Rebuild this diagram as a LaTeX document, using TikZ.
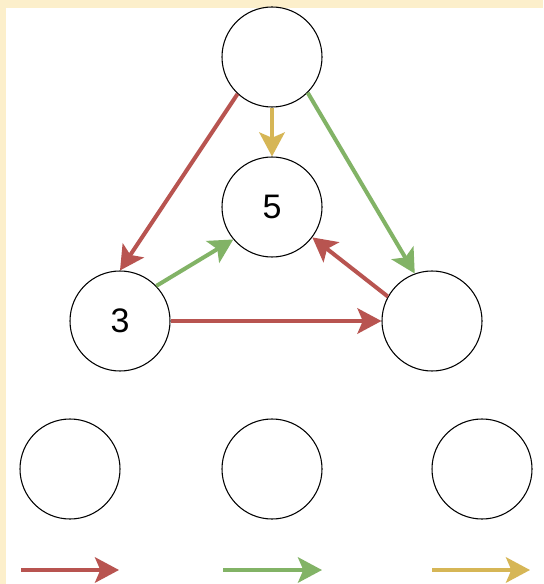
\documentclass[tikz,border=0pt]{standalone}
\usepackage{fontspec}
\setmainfont{Liberation Sans}
\usetikzlibrary{arrows.meta}
\definecolor{cream}{HTML}{FCEFCB}
\definecolor{cred}{HTML}{B85450}
\definecolor{cgreen}{HTML}{82B366}
\definecolor{cyellow}{HTML}{D6B656}
\tikzset{
  vertex/.style={circle,draw=black,line width=0.8pt,fill=white,minimum size=75pt,inner sep=0pt,font=\fontsize{25.5}{30}\selectfont},
  arr/.style={line width=3pt,-{Stealth[length=18pt,width=19pt,inset=4pt]}},
  redarr/.style={arr,draw=cred,fill=cred},
  greenarr/.style={arr,draw=cgreen,fill=cgreen},
  yellowarr/.style={arr,draw=cyellow,fill=cyellow}
}
\begin{document}
\begin{tikzpicture}[x=0.75pt,y=-0.75pt]
\fill[cream] (0,0) rectangle (543,584);
\fill[white] (6,8) rectangle (543,584);
\useasboundingbox (0,0) rectangle (543,584);
\node[vertex] (top) at (272,57) {};
\node[vertex] (c5) at (272,207) {5};
\node[vertex] (c3) at (120,321) {3};
\node[vertex] (right) at (432,321) {};
\node[vertex] (b1) at (70,469) {};
\node[vertex] (b2) at (272,469) {};
\node[vertex] (b3) at (482,469) {};
\draw[redarr] (top.227) -- (c3.north);
\draw[yellowarr] (top.south) -- (c5.north);
\draw[greenarr] (top.315) -- (right.110);
\draw[greenarr] (c3.44) -- (c5.220);
\draw[redarr] (right.151) -- (c5.323);
\draw[redarr] (c3.east) -- (right.west);
\coordinate (l1a) at (21,570); \coordinate (l1b) at (119,570);
\coordinate (l2a) at (223,570); \coordinate (l2b) at (322,570);
\coordinate (l3a) at (432,570); \coordinate (l3b) at (530,570);
\draw[redarr] (l1a) -- (l1b);
\draw[greenarr] (l2a) -- (l2b);
\draw[yellowarr] (l3a) -- (l3b);
\end{tikzpicture}
\end{document}
